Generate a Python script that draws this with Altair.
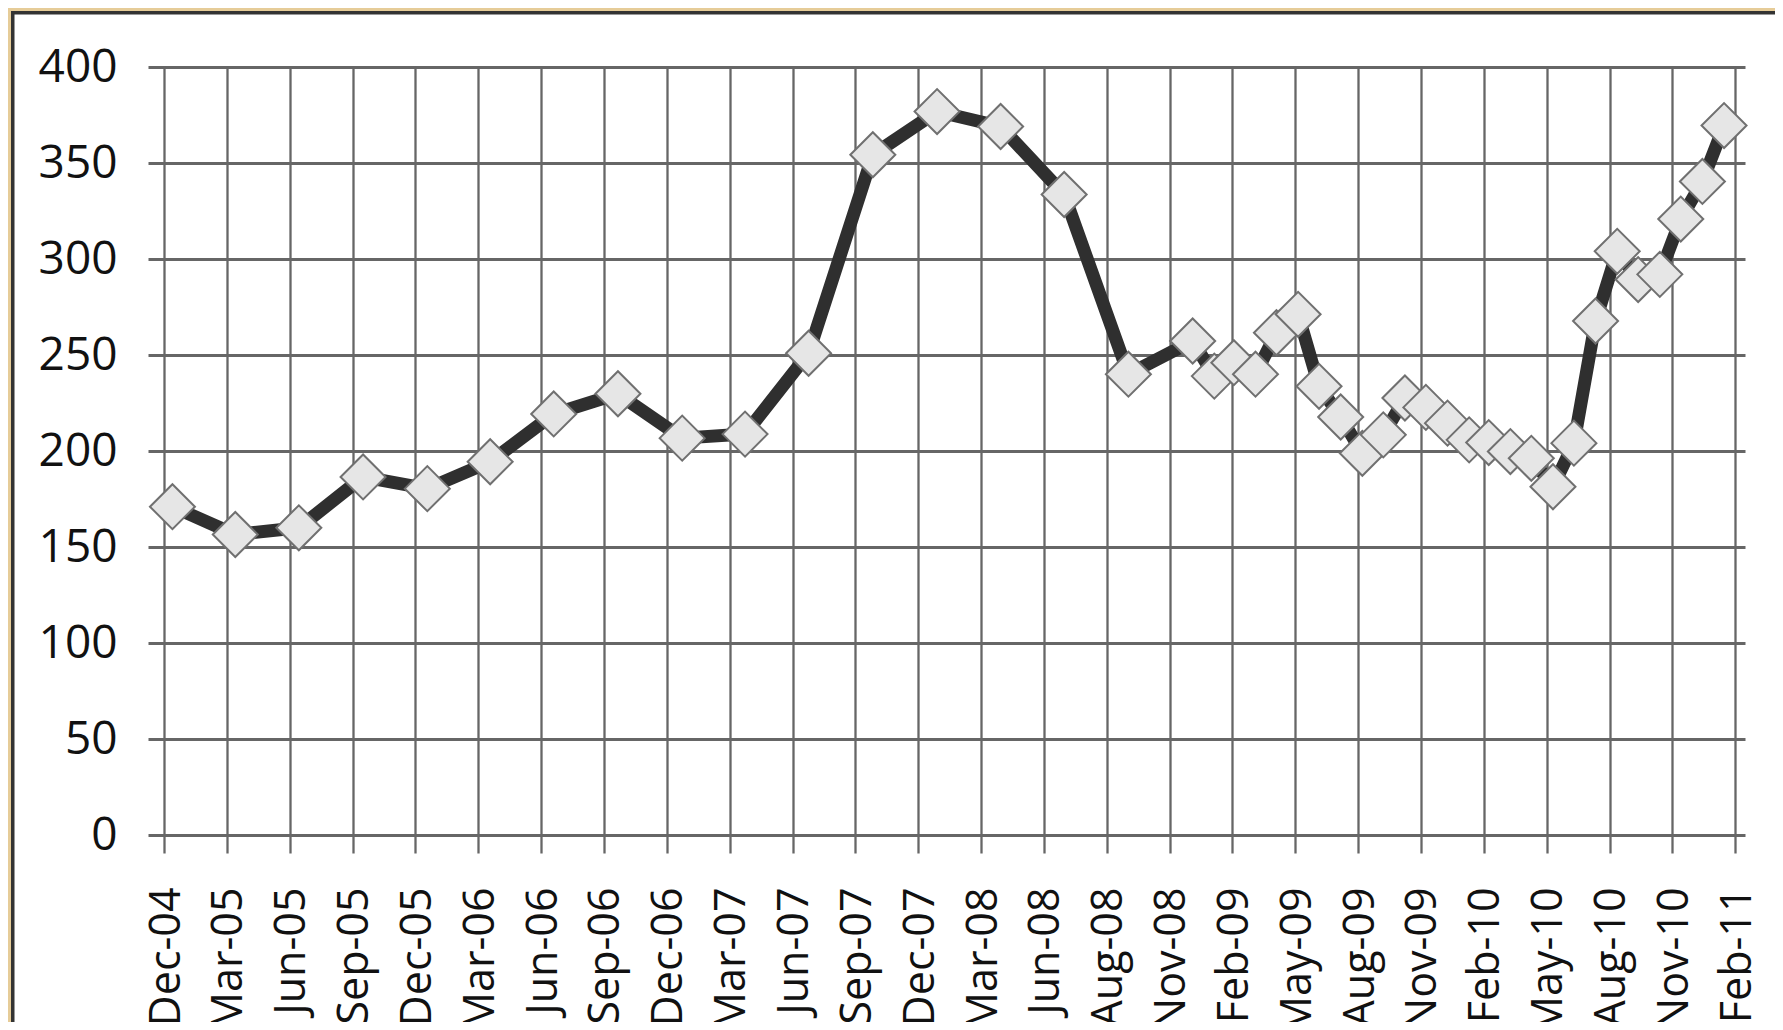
import altair as alt
import pandas as pd

# ---- data ----
quarter_dates = [
    "2005-01-01", "2005-04-01", "2005-07-01", "2005-10-01",
    "2006-01-01", "2006-04-01", "2006-07-01", "2006-10-01",
    "2007-01-01", "2007-04-01", "2007-07-01", "2007-10-01",
    "2008-01-01", "2008-04-01", "2008-07-01", "2008-10-01",
]
quarter_values = [171, 156.5, 160, 186.5, 180.4, 194.4, 219.3, 229.8,
                  206.7, 208.8, 250.9, 354.3, 376.8, 369, 333.6, 240]

month_dates = [
    "2009-01-01", "2009-02-01", "2009-03-01", "2009-04-01", "2009-05-01",
    "2009-06-01", "2009-07-01", "2009-08-01", "2009-09-01", "2009-10-01",
    "2009-11-01", "2009-12-01", "2010-01-01", "2010-02-01", "2010-03-01",
    "2010-04-01", "2010-05-01", "2010-06-01", "2010-07-01", "2010-08-01",
    "2010-09-01", "2010-10-01", "2010-11-01", "2010-12-01", "2011-01-01",
    "2011-02-01",
]
month_values = [257.3, 239, 246, 240, 261.6, 271.2, 233.7, 217.7, 198.8,
                208.4, 227.6, 222.7, 214.5, 205.8, 204.4, 199.7, 196.2,
                181.4, 204.1, 267.7, 304.0, 289.3, 292.0, 320.8, 340.4,
                369.5]

# major tick dates of the date axis (labelled mmm-yy)
tick_dates = [
    "2004-12-20", "2005-03-20", "2005-06-18", "2005-09-16", "2005-12-15",
    "2006-03-15", "2006-06-13", "2006-09-11", "2006-12-10", "2007-03-10",
    "2007-06-08", "2007-09-06", "2007-12-05", "2008-03-04", "2008-06-02",
    "2008-08-31", "2008-11-29", "2009-02-27", "2009-05-28", "2009-08-26",
    "2009-11-24", "2010-02-22", "2010-05-23", "2010-08-21", "2010-11-19",
    "2011-02-17",
]
y_ticks = [0, 50, 100, 150, 200, 250, 300, 350, 400]
x_domain = ["2004-11-27", "2011-03-03"]


def ms(d):
    return int(pd.Timestamp(d, tz="UTC").value // 10**6)


df = pd.DataFrame({
    "date": quarter_dates + month_dates,
    "value": quarter_values + month_values,
})

W, H = 1597, 768
FONT = "Open Sans"
GRID = "#666666"

x_enc = alt.X(
    "date:T",
    scale=alt.Scale(type="utc", domain=[ms(d) for d in x_domain]),
    axis=alt.Axis(
        values=[ms(d) for d in tick_dates],
        labelExpr="utcFormat(datum.value, '%b-%y')",
        title=None, grid=True, gridColor=GRID, gridWidth=2.3, gridOpacity=1,
        domain=False, ticks=True, tickSize=18, tickColor=GRID, tickWidth=2.3,
        labelAngle=270, labelAlign="right", labelBaseline="middle",
        labelPadding=34, labelOffset=2, labelFont=FONT, labelFontSize=43,
        labelColor="#111111",
        labelOverlap=False, labelFlush=False, labelBound=False,
    ),
)
y_enc = alt.Y(
    "value:Q",
    scale=alt.Scale(domain=[0, 400], nice=False, zero=True),
    axis=alt.Axis(
        values=y_ticks, title=None, grid=True, gridColor=GRID, gridWidth=3,
        gridOpacity=1, domain=False, ticks=False, labelPadding=31,
        labelFont=FONT, labelFontSize=46, labelColor="#111111",
        labelFlush=False, labelOverlap=False,
    ),
)

base = alt.Chart(df)
line = base.mark_line(color="#2f2f2f", strokeWidth=13, strokeJoin="round",
                      strokeCap="round").encode(x=x_enc, y=y_enc)
points = base.mark_point(shape="diamond", size=2025, filled=True,
                         fill="#e6e6e6", stroke="#707070", strokeWidth=2,
                         opacity=1).encode(x="date:T", y="value:Q")

frame_data = alt.Data(values=[{"k": 1}])
tan_frame = alt.Chart(frame_data).mark_rect(
    fill="#e9d1a1", fillOpacity=0, stroke="#e6cc98", strokeWidth=3
).encode(x=alt.value(-138.5), x2=alt.value(W + 200),
         y=alt.value(-57.5), y2=alt.value(H + 400))
dark_frame = alt.Chart(frame_data).mark_rect(
    fill="#ffffff", fillOpacity=0, stroke="#333333", strokeWidth=3.5
).encode(x=alt.value(-135.25), x2=alt.value(W + 200),
         y=alt.value(-54.25), y2=alt.value(H + 400))

chart = alt.layer(line, points, tan_frame, dark_frame).properties(
    width=W, height=H,
    autosize=alt.AutoSizeParams(type="none"),
    padding={"left": 140, "top": 59, "right": 30, "bottom": 187},
    background="#ffffff",
).configure_view(stroke=None)

chart.save("out.html", embed_options={"renderer": "svg", "actions": False})
